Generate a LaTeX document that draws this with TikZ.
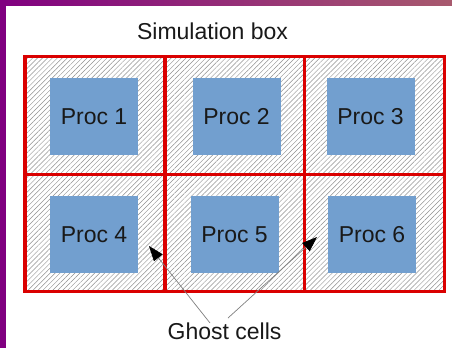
\documentclass[tikz,border=0pt]{standalone}
\usepackage{fontspec}
\setmainfont{Liberation Sans}
\usetikzlibrary{patterns.meta,arrows.meta}
\definecolor{procblue}{HTML}{729FCF}
\definecolor{gridred}{HTML}{DA0000}
\definecolor{frameA}{HTML}{800080}
\definecolor{frameB}{HTML}{A85A6E}
\definecolor{hatch}{HTML}{909090}
\tikzset{
  proc/.style={fill=procblue, minimum width=88bp, minimum height=77bp, inner sep=0pt,
     font=\fontsize{23bp}{27bp}\selectfont, text=black!90},
  label/.style={font=\fontsize{23bp}{27bp}\selectfont, text=black!90, anchor=base, inner sep=0pt},
  gridline/.style={draw=gridred, line width=3.8bp},
  pointer/.style={draw=gray, line width=0.7bp, -{Triangle[length=15bp,width=11bp,fill=black,color=black]}}
}
\begin{document}
\begin{tikzpicture}[x=1bp,y=-1bp]
\useasboundingbox (0,0) rectangle (452,348);
\fill[white] (0,0) rectangle (452,348);
% frame strips
\shade[left color=frameA, right color=frameB] (0,0) rectangle (452,5);
\fill[frameA] (0,0) rectangle (6,348);
% hatched simulation box
\fill[white] (25,56.5) rectangle (444.5,291.5);
\fill[pattern={Lines[angle=45,distance=3.5bp,line width=0.45bp]}, pattern color=hatch] (25,56.5) rectangle (444.5,291.5);
% processors
\node[proc] (p1) at (94,116.5) {Proc 1};
\node[proc] (p2) at (236.5,116.5) {Proc 2};
\node[proc] (p3) at (370.5,116.5) {Proc 3};
\node[proc] (p4) at (94,234.5) {Proc 4};
\node[proc] (p5) at (234.5,234.5) {Proc 5};
\node[proc] (p6) at (372,234.5) {Proc 6};
% red grid
\draw[gridline] (25,56.5) rectangle (444.5,291.5);
\draw[gridline] (165,56.5) -- (165,291.5);
\draw[gridline] (304.5,56.5) -- (304.5,291.5);
\draw[gridline] (25,174.5) -- (444.5,174.5);
% labels
\node[label] (sim) at (212.5,39) {Simulation box};
\node[label] (ghost) at (224.5,339) {Ghost cells};
\coordinate (g1) at (210,323);
\coordinate (g2) at (228,318);
\coordinate (t1) at (149,246);
\coordinate (t2) at (317,237);
\draw[pointer] (g1) -- (t1);
\draw[pointer] (g2) -- (t2);
\end{tikzpicture}
\end{document}
